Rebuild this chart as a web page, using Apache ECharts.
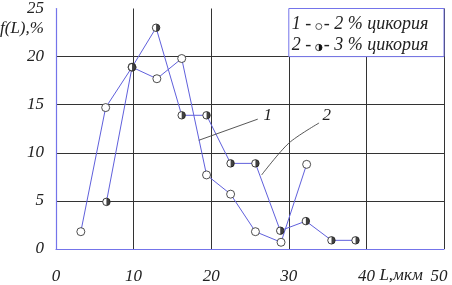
<!DOCTYPE html>
<html><head><meta charset="utf-8">
<script src="https://cdn.jsdelivr.net/npm/echarts@6/dist/echarts.min.js"></script>
<style>html,body{margin:0;padding:0;background:#fff}#c{width:452px;height:285px}</style>
</head><body><div id="c"></div>
<script>
// Data
const series1X = [3.2, 6.4, 9.8, 13.0, 16.2, 19.4, 22.5, 25.7, 29.0, 32.3];
const series1Y = [1.8, 14.7, 18.9, 17.7, 19.8, 7.7, 5.7, 1.8, 0.7, 8.8];
const series2X = [6.5, 9.8, 12.9, 16.2, 19.4, 22.5, 25.7, 28.9, 32.2, 35.5, 38.6];
const series2Y = [4.9, 18.9, 23.0, 13.9, 13.9, 8.9, 8.9, 1.9, 2.9, 0.9, 0.9];
const xTicks = [0, 10, 20, 30, 40, 50];
const yTicks = [0, 5, 10, 15, 20, 25];
const legendPre = ['1 - ', '2 - '];
const legendPost = ['- 2 % цикория', '- 3 % цикория'];
const yAxisTitle = 'f(L),%';
const xAxisTitle = 'L,мкм';
const leader1 = [[18.4, 11.3], [26.0, 13.5]];
const leader1Label = ['1', 27.3, 13.9];
const leader2 = [[26.5, 7.7], [30.0, 11.0], [33.9, 13.1]];
const leader2Label = ['2', 34.9, 13.9];
const legendBoxX = [30, 50];
const legendBoxY = [20, 25];

const FONT = 'Liberation Serif';
const LINE = '#6060dc';
const AXIS = '#7474ea';
const GRID = '#333333';

const s1 = series1X.map((x, i) => [x, series1Y[i]]);
const s2 = series2X.map((x, i) => [x, series2Y[i]]);

const chart = echarts.init(document.getElementById('c'), null, {renderer: 'canvas'});
const labelStyle = {fontFamily: FONT, fontStyle: 'italic', fontSize: 17, color: '#222'};

chart.setOption({
  animation: false,
  backgroundColor: '#fff',
  grid: {left: 56, right: 8, top: 6, bottom: 35},
  xAxis: {
    type: 'value', min: xTicks[0], max: xTicks[xTicks.length - 1], interval: 10,
    axisLine: {show: true, lineStyle: {color: AXIS, width: 1.2}},
    axisTick: {show: false},
    axisLabel: Object.assign({}, labelStyle, {
      margin: 19,
      formatter: v => v === 50 ? '{e|50}' : String(v),
      rich: {e: Object.assign({}, labelStyle, {padding: [0, 10, 0, 0]})}
    }),
    splitLine: {show: true, showMinLine: false, showMaxLine: true, lineStyle: {color: GRID, width: 1}}
  },
  yAxis: {
    type: 'value', min: yTicks[0], max: yTicks[yTicks.length - 1], interval: 5,
    axisLine: {show: true, lineStyle: {color: AXIS, width: 1.2}},
    axisTick: {show: false},
    axisLabel: Object.assign({}, labelStyle, {margin: 12, padding: [4, 0, 0, 0]}),
    splitLine: {show: true, showMinLine: false, showMaxLine: false, lineStyle: {color: GRID, width: 1}}
  },
  series: [
    {
      type: 'line', data: s1, z: 3,
      lineStyle: {color: LINE, width: 1},
      symbol: 'circle', symbolSize: 8,
      itemStyle: {color: '#fff', borderColor: '#222', borderWidth: 0.8}
    },
    {
      type: 'line', data: s2, z: 3,
      lineStyle: {color: LINE, width: 1},
      symbol: 'circle', symbolSize: 7.5,
      itemStyle: {color: '#fff', borderColor: '#111', borderWidth: 0.8}
    },
    {
      type: 'scatter', data: s2, z: 4, silent: true,
      symbol: 'path://M0,0A10,10,0,0,1,0,20Z',
      symbolSize: [3.6, 7.2], symbolOffset: [1.8, 0],
      itemStyle: {color: '#111'}
    }
  ]
});

const px = (x, y) => chart.convertToPixel({gridIndex: 0}, [x, y]);
const g = [];
// legend box
const b0 = px(legendBoxX[0], legendBoxY[1]);
const b1 = px(legendBoxX[1], legendBoxY[0]);
g.push({type: 'rect', z: 10, shape: {x: b0[0], y: b0[1], width: b1[0] - b0[0], height: b1[1] - b0[1]},
  style: {fill: '#fff', stroke: AXIS, lineWidth: 1}});
const rowY = [b0[1] + 16, b0[1] + 37];
const tStyle = {fontFamily: FONT, fontStyle: 'italic', fontSize: 17, fill: '#222', verticalAlign: 'middle'};
const lStyle = Object.assign({}, tStyle, {fontSize: 18});
for (let i = 0; i < 2; i++) {
  g.push({type: 'text', z: 11, x: b0[0] + 3, y: rowY[i], style: Object.assign({}, lStyle, {text: legendPre[i], align: 'left'})});
  g.push({type: 'text', z: 11, x: b0[0] + 35, y: rowY[i], style: Object.assign({}, lStyle, {text: legendPost[i], align: 'left'})});
}
g.push({type: 'circle', z: 11, shape: {cx: b0[0] + 30, cy: rowY[0] + 2, r: 3}, style: {fill: '#fff', stroke: '#333', lineWidth: 0.8}});
g.push({type: 'circle', z: 11, shape: {cx: b0[0] + 30, cy: rowY[1] + 2, r: 3.2}, style: {fill: '#fff', stroke: '#111', lineWidth: 0.8}});
g.push({type: 'sector', z: 12, shape: {cx: b0[0] + 30, cy: rowY[1] + 2, r: 3.2, r0: 0, startAngle: -Math.PI / 2, endAngle: Math.PI / 2, clockwise: true}, style: {fill: '#111'}});
// leaders
g.push({type: 'polyline', z: 5, shape: {points: leader1.map(p => px(p[0], p[1]))}, style: {stroke: '#444', lineWidth: 0.9, fill: null}});
g.push({type: 'polyline', z: 5, shape: {points: leader2.map(p => px(p[0], p[1])), smooth: 0.3}, style: {stroke: '#444', lineWidth: 0.9, fill: null}});
[leader1Label, leader2Label].forEach(l => {
  const p = px(l[1], l[2]);
  g.push({type: 'text', z: 6, x: p[0], y: p[1], style: Object.assign({}, tStyle, {text: l[0], align: 'center'})});
});
// axis titles
g.push({type: 'text', z: 6, x: 0, y: 29, style: Object.assign({}, tStyle, {text: yAxisTitle, align: 'left'})});
const xt = px(40, 0);
g.push({type: 'text', z: 6, x: xt[0] + 13, y: xt[1] + 27, style: Object.assign({}, tStyle, {text: xAxisTitle, align: 'left'})});
chart.setOption({graphic: g});
</script>
</body></html>
